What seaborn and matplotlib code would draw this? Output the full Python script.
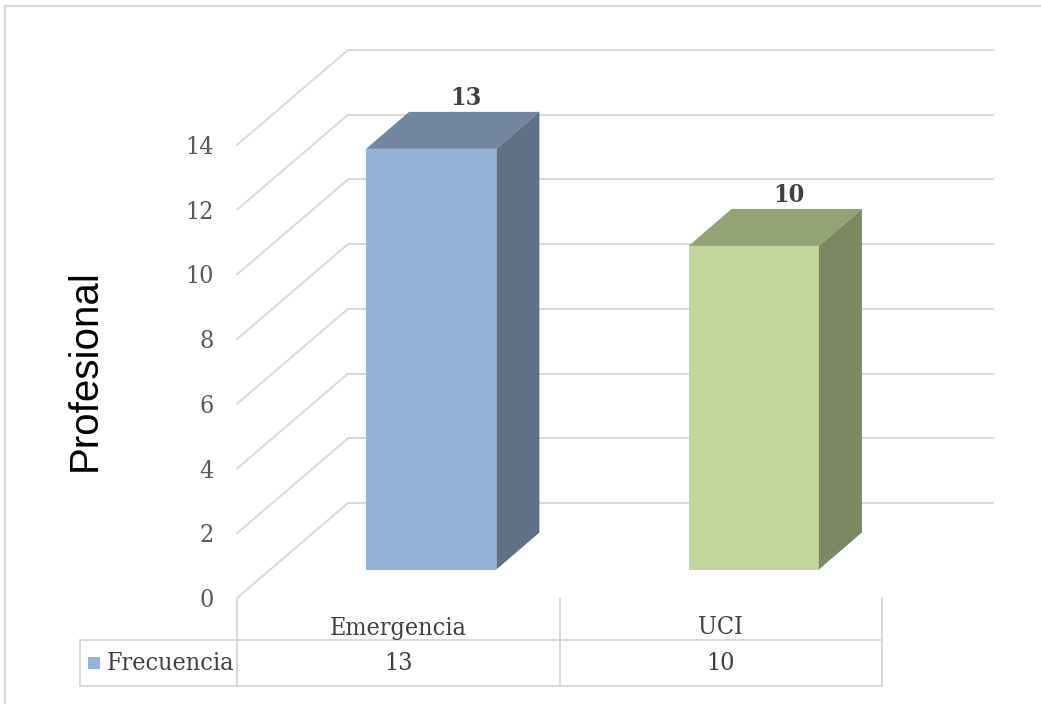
import matplotlib
matplotlib.use("Agg")
import matplotlib.pyplot as plt
import matplotlib.transforms as mtransforms
from matplotlib.lines import Line2D
from matplotlib.patches import Polygon, Rectangle
import seaborn as sns

# ---- data ----
categories = ["Emergencia", "UCI"]
values = [13, 10]
series_name = "Frecuencia"
y_label = "Profesional"
y_ticks = [0, 2, 4, 6, 8, 10, 12, 14]

front_colors = ["#95B3D7", "#C3D69B"]
side_colors = ["#5F7087", "#7B8862"]
top_colors = ["#7286A2", "#94A374"]

sns.set_theme(style="white")
SERIF = dict(family="DejaVu Serif", stretch="condensed")
plt.rcParams["font.family"] = ["DejaVu Sans"]

W, H = 1041, 704
fig = plt.figure(figsize=(W / 100, H / 100), dpi=100)
ax = fig.add_axes([237 / W, 106 / H, 645 / W, 453 / H])

sns.barplot(x=categories, y=values, hue=categories, palette=front_colors,
            width=0.404, saturation=1, legend=False, ax=ax, zorder=3)
ax.set_xlim(-0.5, 1.5)
ax.set_ylim(0, 14)
for s in ax.spines.values():
    s.set_visible(False)
ax.set_xticks([])
ax.set_xlabel("")
ax.set_ylabel("")
ax.set_yticks(y_ticks)
ax.set_yticklabels([str(t) for t in y_ticks], color="#595959", fontsize=18,
                   **SERIF)
ax.tick_params(axis="y", length=0, pad=17)
ax.grid(False)
ax.patch.set_alpha(0)

BACK = (111, 95)
BAR_OFF = (33, 28.5)
BAR_DEPTH = (43, 37)
ident = mtransforms.IdentityTransform()

back_tr = ax.transData + mtransforms.Affine2D().translate(*BACK)
for v in y_ticks:
    ax.plot([-0.5, 1.5], [v, v], transform=back_tr, color="#D9D9D9", lw=1.4,
            clip_on=False, zorder=0)
    p = ax.transData.transform((-0.5, v))
    fig.add_artist(Line2D([p[0], p[0] + BACK[0]], [p[1], p[1] + BACK[1]],
                          transform=ident, color="#D9D9D9", lw=1.4, zorder=0))

bar_tr = ax.transData + mtransforms.Affine2D().translate(*BAR_OFF)
bars = sorted(ax.patches, key=lambda b: b.get_x())
for i, b in enumerate(bars):
    b.set_transform(bar_tr)
    b.set_clip_on(False)
    b.set_edgecolor("none")
    x0, w, h = b.get_x(), b.get_width(), b.get_height()
    fl = bar_tr.transform((x0, h))
    fr = bar_tr.transform((x0 + w, h))
    br = bar_tr.transform((x0 + w, 0))
    dx, dy = BAR_DEPTH
    top = Polygon([fl, fr, (fr[0] + dx, fr[1] + dy), (fl[0] + dx, fl[1] + dy)],
                  closed=True, transform=ident, facecolor=top_colors[i],
                  edgecolor="none", zorder=4)
    side = Polygon([fr, br, (br[0] + dx, br[1] + dy), (fr[0] + dx, fr[1] + dy)],
                   closed=True, transform=ident, facecolor=side_colors[i],
                   edgecolor="none", zorder=4)
    fig.add_artist(top)
    fig.add_artist(side)
    ax.annotate(str(values[i]), xy=(x0 + w / 2, h), xytext=(68, 72),
                textcoords="offset pixels", ha="center", va="baseline",
                fontsize=18, fontweight="bold", color="#404040",
                annotation_clip=False, **SERIF)

# ---- data table ----
xt = ax.get_xaxis_transform()
grid_c = "#D9D9D9"
row1 = -42 / 453
row2 = -88 / 453
left = -0.988
for xv in [-0.5, 0.5, 1.5]:
    ax.plot([xv, xv], [0, row2], transform=xt, color=grid_c, lw=1.4, clip_on=False)
for yv in [row1, row2]:
    ax.plot([left, 1.5], [yv, yv], transform=xt, color=grid_c, lw=1.4, clip_on=False)
ax.plot([left, left], [row1, row2], transform=xt, color=grid_c, lw=1.4, clip_on=False)

for i, (c, v) in enumerate(zip(categories, values)):
    ax.text(i, -30 / 453, c, transform=xt, ha="center", va="center",
            fontsize=18, color="#404040", **SERIF)
    ax.text(i, -66 / 453, str(v), transform=xt, ha="center", va="center",
            fontsize=18, color="#404040", **SERIF)
ax.add_patch(Rectangle((-0.963, -71 / 453), 0.037, 12 / 453, transform=xt,
                       facecolor=front_colors[0], edgecolor="none", clip_on=False))
ax.text(-0.904, -66 / 453, series_name, transform=xt, ha="left", va="center",
        fontsize=18, color="#404040", **SERIF)

fig.text(85 / W, 1 - 370 / H, y_label, rotation=90, ha="center", va="center",
         fontsize=29, color="#000000", family="Liberation Sans")

fig.patches.append(Rectangle((5, -20), 1100, 718, transform=ident, fill=False,
                             edgecolor="#D9D9D9", lw=1.5))

fig.savefig("out.png", dpi=100)
